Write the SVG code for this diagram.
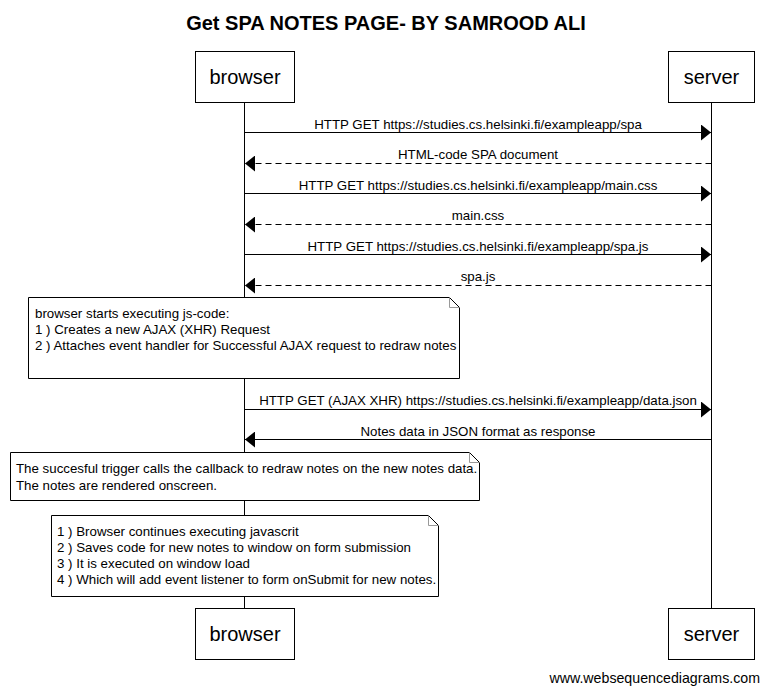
<svg xmlns="http://www.w3.org/2000/svg" width="769" height="693" viewBox="0 0 769 693">
<style>
text{font-family:"Liberation Sans",Arial,sans-serif;fill:#000}
.t{font-size:20px;font-weight:bold}
.p{font-size:20px}
.m{font-size:13.3px}
.f{font-size:14.2px}
.box{fill:#fff;stroke:#000;stroke-width:1}
.life{stroke:#000;stroke-width:1}
.line{stroke:#000;stroke-width:1;fill:none}
.dash{stroke-dasharray:6,4}
.fold{fill:none;stroke:#999;stroke-width:1}
</style>
<defs>
<marker id="ah" viewBox="0 0 10 16" refX="10" refY="8" markerWidth="10" markerHeight="16" markerUnits="userSpaceOnUse" orient="auto">
<path d="M0,0 L10,8 L0,16 Z" fill="#000"/>
</marker>
</defs>
<rect width="769" height="693" fill="#fff"/>
<text class="t" x="386" y="30" text-anchor="middle">Get SPA NOTES PAGE- BY SAMROOD ALI</text>
<g id="lifelines">
<line class="life" x1="244.5" y1="102" x2="244.5" y2="608"/>
<line class="life" x1="711.5" y1="102" x2="711.5" y2="608"/>
</g>
<g id="browser">
<rect class="box" x="195.5" y="51.5" width="99" height="51"/>
<text class="p" x="245" y="84" text-anchor="middle">browser</text>
</g>
<g id="server">
<rect class="box" x="668.5" y="51.5" width="86" height="51"/>
<text class="p" x="711.5" y="84" text-anchor="middle">server</text>
</g>
<g id="browser-bottom">
<rect class="box" x="195.5" y="608.5" width="99" height="51"/>
<text class="p" x="245" y="641" text-anchor="middle">browser</text>
</g>
<g id="server-bottom">
<rect class="box" x="668.5" y="608.5" width="86" height="51"/>
<text class="p" x="711.5" y="641" text-anchor="middle">server</text>
</g>
<g id="connectors">
<line class="line" x1="244.5" y1="132.5" x2="711" y2="132.5" marker-end="url(#ah)"/>
<text class="m" x="478" y="129" text-anchor="middle">HTTP GET https://studies.cs.helsinki.fi/exampleapp/spa</text>
<line class="line dash" x1="711.5" y1="163.5" x2="245" y2="163.5" marker-end="url(#ah)"/>
<text class="m" x="478" y="159" text-anchor="middle">HTML-code SPA document</text>
<line class="line" x1="244.5" y1="193.5" x2="711" y2="193.5" marker-end="url(#ah)"/>
<text class="m" x="478" y="190" text-anchor="middle">HTTP GET https://studies.cs.helsinki.fi/exampleapp/main.css</text>
<line class="line dash" x1="711.5" y1="224.5" x2="245" y2="224.5" marker-end="url(#ah)"/>
<text class="m" x="478" y="220" text-anchor="middle">main.css</text>
<line class="line" x1="244.5" y1="254.5" x2="711" y2="254.5" marker-end="url(#ah)"/>
<text class="m" x="478" y="251" text-anchor="middle">HTTP GET https://studies.cs.helsinki.fi/exampleapp/spa.js</text>
<line class="line dash" x1="711.5" y1="285.5" x2="245" y2="285.5" marker-end="url(#ah)"/>
<text class="m" x="478" y="281" text-anchor="middle">spa.js</text>
<line class="line" x1="244.5" y1="409.5" x2="711" y2="409.5" marker-end="url(#ah)"/>
<text class="m" x="478" y="405" text-anchor="middle">HTTP GET (AJAX XHR) https://studies.cs.helsinki.fi/exampleapp/data.json</text>
<line class="line" x1="711.5" y1="439.5" x2="245" y2="439.5" marker-end="url(#ah)"/>
<text class="m" x="478" y="436" text-anchor="middle">Notes data in JSON format as response</text>
</g>
<g id="note1">
<path class="box" d="M28.5,297.5 H449.5 L459.5,307.5 V378.5 H28.5 Z"/>
<path class="fold" d="M449.5,297.5 V307.5 H459.5"/>
<text class="m" x="35" y="318">browser starts executing js-code:</text>
<text class="m" x="35" y="334">1 ) Creates a new AJAX (XHR) Request</text>
<text class="m" x="35" y="350">2 ) Attaches event handler for Successful AJAX request to redraw notes</text>
</g>
<g id="note2">
<path class="box" d="M10.5,452.5 H469.5 L479.5,462.5 V500.5 H10.5 Z"/>
<path class="fold" d="M469.5,452.5 V462.5 H479.5"/>
<text class="m" x="16" y="473">The succesful trigger calls the callback to redraw notes on the new notes data.</text>
<text class="m" x="16" y="490">The notes are rendered onscreen.</text>
</g>
<g id="note3">
<path class="box" d="M51.5,515.5 H428.5 L438.5,525.5 V596.5 H51.5 Z"/>
<path class="fold" d="M428.5,515.5 V525.5 H438.5"/>
<text class="m" x="57" y="536">1 ) Browser continues executing javascrit</text>
<text class="m" x="57" y="552">2 ) Saves code for new notes to window on form submission</text>
<text class="m" x="57" y="568">3 ) It is executed on window load</text>
<text class="m" x="57" y="584">4 ) Which will add event listener to form onSubmit for new notes.</text>
</g>
<text class="f" x="760" y="683" text-anchor="end">www.websequencediagrams.com</text>
</svg>
